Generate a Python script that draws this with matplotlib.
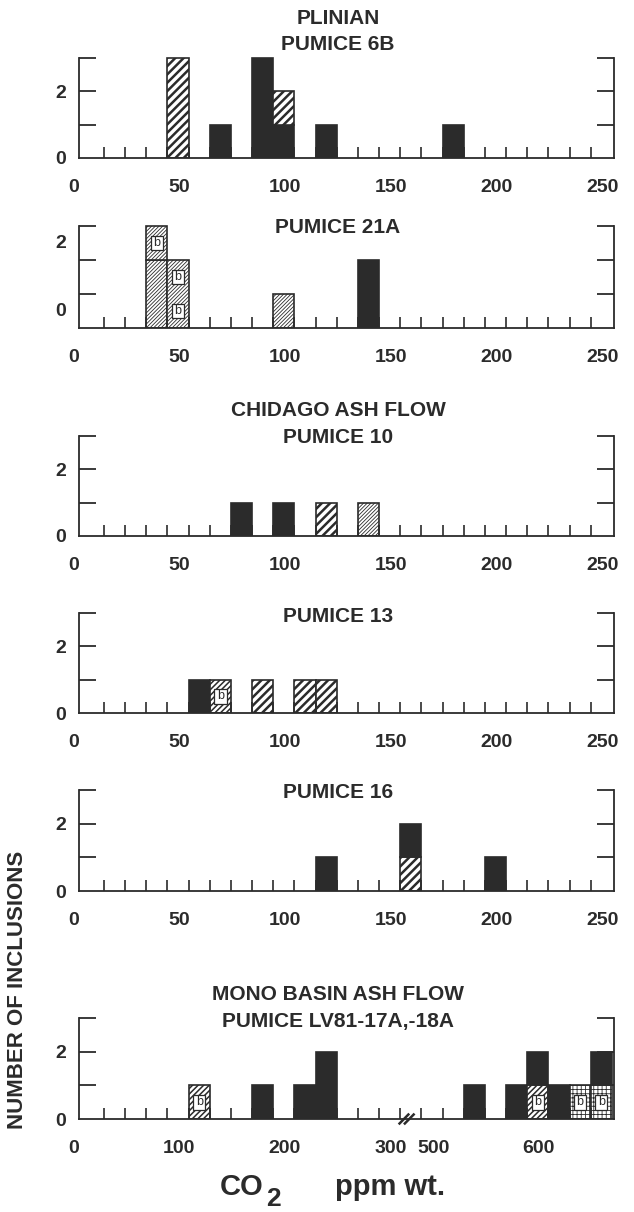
import matplotlib
matplotlib.use('Agg')
import matplotlib.pyplot as plt
from matplotlib.patches import Rectangle
from matplotlib.ticker import FixedLocator
from matplotlib.transforms import ScaledTranslation

# ---------------- data ----------------
# each bar: left edge of CO2 bin (ppm) and the stacked inclusions (bottom -> top)
p1_title = ['PLINIAN', 'PUMICE 6B']
p1_bins = [40, 60, 80, 90, 110, 170]
p1_cells = [['hatch', 'hatch', 'hatch'], ['solid'], ['solid', 'solid', 'solid'],
            ['solid', 'hatch'], ['solid'], ['solid']]

p2_title = ['PUMICE 21A']
p2_bins = [30, 40, 90, 130]
p2_cells = [['fine', 'fine', 'fine_b'], ['fine_b', 'fine_b'], ['fine'], ['solid', 'solid']]

p3_title = ['CHIDAGO ASH FLOW', 'PUMICE 10']
p3_bins = [70, 90, 110, 130]
p3_cells = [['solid'], ['solid'], ['hatch'], ['fine']]

p4_title = ['PUMICE 13']
p4_bins = [50, 60, 80, 100, 110]
p4_cells = [['solid'], ['hatch_b'], ['hatch'], ['hatch'], ['hatch']]

p5_title = ['PUMICE 16']
p5_bins = [110, 150, 190]
p5_cells = [['solid'], ['hatch', 'solid'], ['solid']]

p6_title = ['MONO BASIN ASH FLOW', 'PUMICE LV81-17A,-18A']
p6_bins = [100, 160, 200, 220, 520, 560, 580, 600, 620, 640]
p6_cells = [['hatch_b'], ['solid'], ['solid'], ['solid', 'solid'], ['solid'], ['solid'],
            ['hatch_b', 'solid'], ['solid'], ['grid_b'], ['grid_b', 'solid']]

x_ticks_250 = [0, 50, 100, 150, 200, 250]
x_ticks_p6 = [0, 100, 200, 300, 500, 600]
y_label_text = ['0', '2']
y_label_pos = [0, 2]
y_label_pos_p2 = [0.55, 2.55]   # as printed in the original figure

# ---------------- style ----------------
W, H, DPI = 634, 1212, 100
INK = '#2b2b2b'
plt.rcParams['font.family'] = ['Liberation Sans', 'DejaVu Sans']
plt.rcParams['font.weight'] = 'bold'
plt.rcParams['hatch.linewidth'] = 1.5
plt.rcParams['text.color'] = INK
plt.rcParams['xtick.color'] = INK
plt.rcParams['ytick.color'] = INK

STYLES = {
    'solid':   dict(fc=INK, hatch=None, hlw=1.0, b=False),
    'hatch':   dict(fc='white', hatch='////', hlw=1.8, b=False),
    'fine':    dict(fc='white', hatch='/' * 9, hlw=0.6, b=False),
    'hatch_b': dict(fc='white', hatch='/' * 6, hlw=1.1, b=True),
    'fine_b':  dict(fc='white', hatch='/' * 9, hlw=0.6, b=True),
    'grid_b':  dict(fc='white', hatch='++++', hlw=0.6, b=True),
}

L_PX, R_PX = 79, 614
PANEL_PX = [(58, 158), (226, 328), (436, 536), (613, 713), (790, 891), (1018, 1119)]
TITLE_PX = [[18, 45], [228], [410, 437], [617], [793], [995, 1022]]
YMAX = 3.06
LABEL_SHIFT_PX = -9.5

GAP = 160          # ppm removed by the axis break in the Mono Basin panel
BREAK_U = 306


def to_u(v):
    return v if v <= 310 else v - GAP


fig = plt.figure(figsize=(W / DPI, H / DPI), dpi=DPI)
fig.patch.set_facecolor('white')


def make_axes(i, xlim, xticks_u, xtick_labels, minor_u, ylabpos):
    top, base = PANEL_PX[i]
    unit = (base - top) / 3.0
    hpx = unit * YMAX
    ax = fig.add_axes([L_PX / W, 1 - base / H, (R_PX - L_PX) / W, hpx / H])
    ax.set_xlim(*xlim)
    ax.set_ylim(0, YMAX)
    ax.set_facecolor('none')
    for s in ['left', 'right']:
        ax.spines[s].set_bounds(0, 3)
        ax.spines[s].set_linewidth(1.3)
        ax.spines[s].set_color(INK)
    ax.spines['top'].set_visible(False)
    ax.spines['bottom'].set_linewidth(1.3)
    ax.spines['bottom'].set_color(INK)

    ax.xaxis.remove_overlapping_locs = False
    ax.yaxis.remove_overlapping_locs = False
    ax.yaxis.set_major_locator(FixedLocator(ylabpos))
    ax.set_yticklabels(y_label_text)
    ax.yaxis.set_minor_locator(FixedLocator([1, 2, 3]))
    ax.tick_params(axis='y', which='major', length=0, pad=9, labelsize=14,
                   left=True, right=False, labelleft=True, labelright=False)
    ax.tick_params(axis='y', which='minor', direction='in', length=12, width=1.3,
                   left=True, right=True)

    ax.xaxis.set_major_locator(FixedLocator(xticks_u))
    ax.set_xticklabels(xtick_labels)
    ax.xaxis.set_minor_locator(FixedLocator(minor_u))
    ax.tick_params(axis='x', which='major', length=0, pad=15, labelsize=14)
    ax.tick_params(axis='x', which='minor', direction='in', length=8, width=1.2)
    shift = ScaledTranslation(LABEL_SHIFT_PX / DPI, 0, fig.dpi_scale_trans)
    for lab in ax.get_xticklabels():
        lab.set_transform(lab.get_transform() + shift)
    return ax, hpx, base


def draw_bars(ax, bins, cells, width, xmap=lambda v: v):
    for left, stack in zip(bins, cells):
        x = xmap(left)
        bottom = 0
        j = 0
        while j < len(stack):
            kind = stack[j]
            k = j
            while k < len(stack) and stack[k] == kind:
                k += 1
            n = k - j
            st = STYLES[kind]
            bars = ax.bar(x, n, width=width, bottom=bottom, align='edge',
                          facecolor=st['fc'], edgecolor=INK, linewidth=1.2,
                          hatch=st['hatch'], zorder=1)
            for p in bars:
                if hasattr(p, 'set_hatch_linewidth'):
                    p.set_hatch_linewidth(st['hlw'])
            if st['b']:
                for c in range(n):
                    cy = bottom + c + 0.5
                    bw, bh = width * 0.58, 0.44
                    ax.add_patch(Rectangle((x + width / 2 - bw / 2, cy - bh / 2), bw, bh,
                                           facecolor='white', edgecolor=INK, lw=0.9, zorder=3))
                    ax.text(x + width / 2, cy, 'b', ha='center', va='center', fontsize=9,
                            fontweight='normal', color=INK, zorder=4)
            bottom += n
            j = k


def add_titles(ax, i, lines, hpx, base):
    for txt, ypx in zip(lines, TITLE_PX[i]):
        ya = (base - ypx) / hpx
        ax.text(0.484, ya, txt, transform=ax.transAxes, ha='center', va='center',
                fontsize=15, fontweight='bold', color=INK, clip_on=False)


minor_250 = list(range(10, 250, 10))
panels = [
    (p1_title, p1_bins, p1_cells, y_label_pos),
    (p2_title, p2_bins, p2_cells, y_label_pos_p2),
    (p3_title, p3_bins, p3_cells, y_label_pos),
    (p4_title, p4_bins, p4_cells, y_label_pos),
    (p5_title, p5_bins, p5_cells, y_label_pos),
]
for i, (title, bins, cells, ylp) in enumerate(panels):
    ax, hpx, base = make_axes(i, (-1.8, 251), x_ticks_250,
                              [str(v) for v in x_ticks_250], minor_250, ylp)
    draw_bars(ax, bins, cells, 10)
    add_titles(ax, i, title, hpx, base)

# Mono Basin panel with broken axis (300 -> 480 ppm removed)
minor_p6 = list(range(20, 500, 20))
ax6, hpx6, base6 = make_axes(5, (-3.6, 502), [to_u(v) for v in x_ticks_p6],
                             [str(v) for v in x_ticks_p6], minor_p6, y_label_pos)
draw_bars(ax6, p6_bins, p6_cells, 20, xmap=to_u)
add_titles(ax6, 5, p6_title, hpx6, base6)
for dxu in (-2.5, 2.5):
    ax6.plot([BREAK_U + dxu - 5, BREAK_U + dxu + 5], [-0.16, 0.16], color=INK, lw=1.8,
             clip_on=False, zorder=5, solid_capstyle='butt')

# axis titles
fig.text(18 / W, 1 - 990 / H, 'NUMBER OF INCLUSIONS', rotation=90, ha='center',
         va='center', fontsize=16, fontweight='bold', color=INK)
fig.text(220 / W, 1 - 1195 / H, 'CO', ha='left', va='baseline', fontsize=21,
         fontweight='bold', color=INK)
fig.text(266 / W, 1 - 1206 / H, '2', ha='left', va='baseline', fontsize=19,
         fontweight='bold', color=INK)
fig.text(335 / W, 1 - 1195 / H, 'ppm wt.', ha='left', va='baseline', fontsize=21,
         fontweight='bold', color=INK)

fig.savefig('out.png', dpi=DPI, facecolor='white')
